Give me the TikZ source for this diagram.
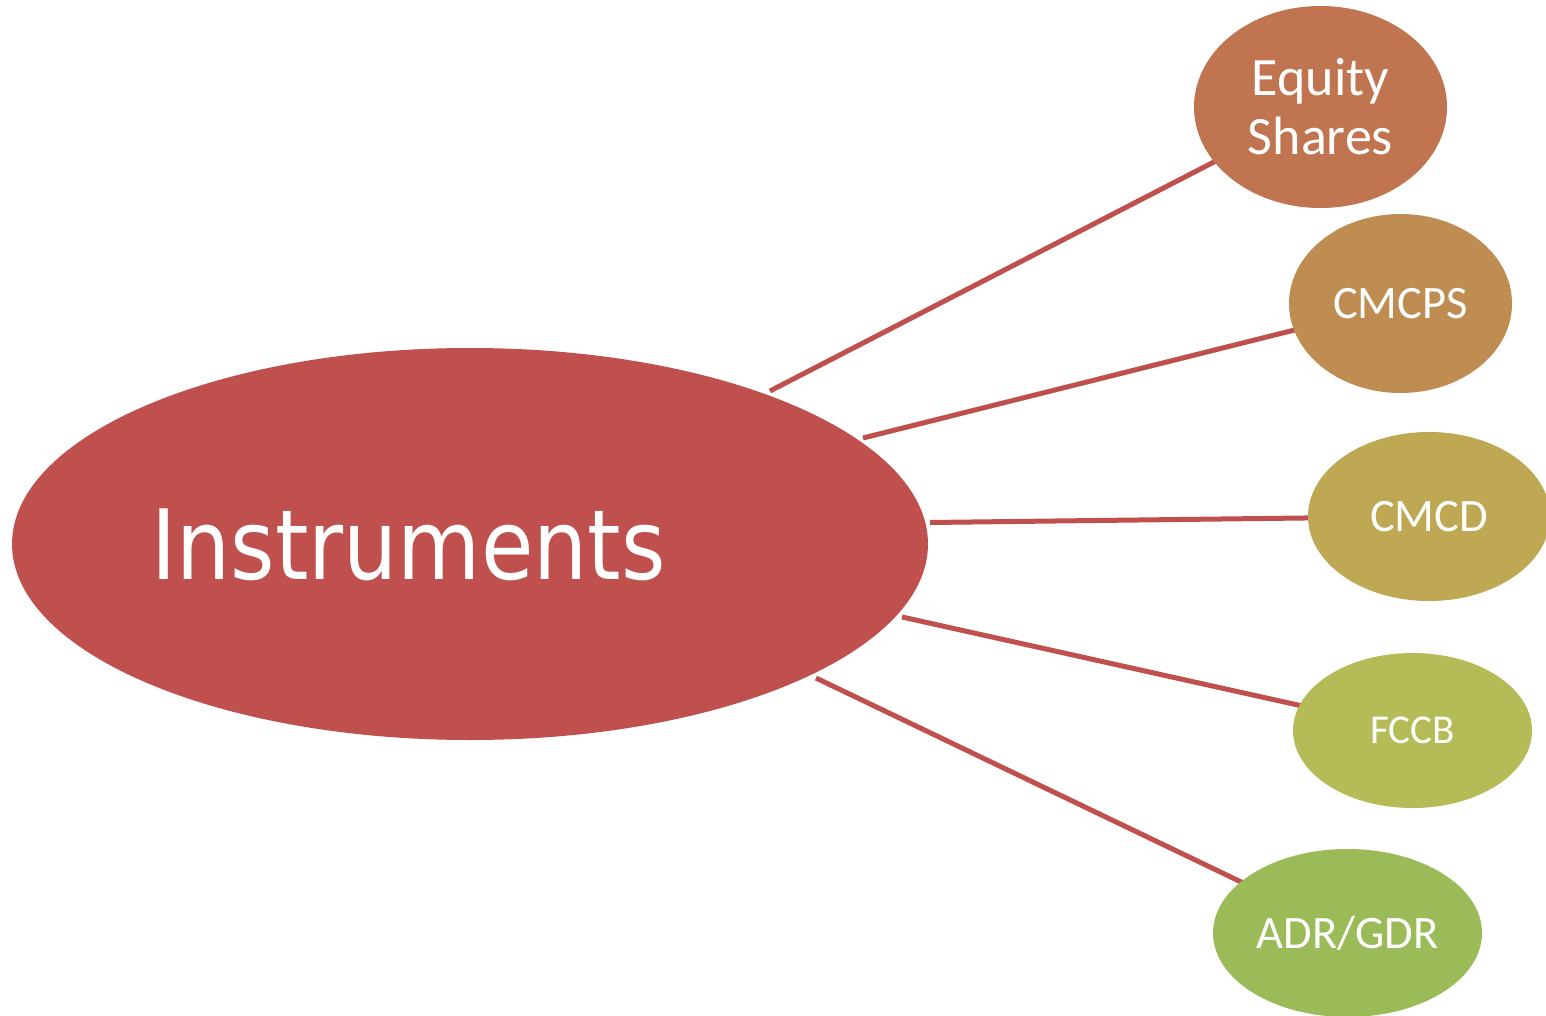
\documentclass[tikz,border=0pt]{standalone}
\usepackage{fontspec}
\setmainfont{Carlito}
\newfontfamily\instfont[FakeStretch=0.88]{DejaVu Sans}
\usetikzlibrary{shapes.geometric,backgrounds}

\definecolor{hubred}{HTML}{C0504D}
\definecolor{leafA}{RGB}{192,116,80}
\definecolor{leafB}{RGB}{191,140,82}
\definecolor{leafC}{RGB}{190,168,84}
\definecolor{leafD}{RGB}{181,187,86}
\definecolor{leafE}{HTML}{9BBB59}

\tikzset{
  leaf/.style={ellipse, inner sep=0pt, text=white, align=center},
  link/.style={draw=hubred, line width=5pt}
}

\begin{document}
\begin{tikzpicture}[x=1pt, y=-1pt]
  \useasboundingbox (0,0) rectangle (1546,1016);
  \clip (0,0) rectangle (1546,1016);

  % central hub
  \node[ellipse, fill=hubred, minimum width=916pt, minimum height=392pt, inner sep=0pt] (main) at (470,544) {};
  \node[text=white, inner sep=0pt, font=\instfont\fontsize{97}{110}\selectfont] (maintext) at (408.5,545) {Instruments};

  % satellites
  \node[leaf, fill=leafA, minimum width=253pt, minimum height=202pt,
        font=\fontsize{54}{59}\selectfont] (eq) at (1320.5,107) {Equity\\Shares};
  \node[leaf, fill=leafB, minimum width=223pt, minimum height=179pt,
        font=\fontsize{46.5}{56}\selectfont] (cmcps) at (1400.5,303.5) {CMCPS};
  \node[leaf, fill=leafC, minimum width=242pt, minimum height=169pt,
        font=\fontsize{46.5}{56}\selectfont] (cmcd) at (1429,516.5) {CMCD};
  \node[leaf, fill=leafD, minimum width=239pt, minimum height=155pt,
        font=\fontsize{41}{50}\selectfont] (fccb) at (1412.5,730.5) {FCCB};
  \node[leaf, fill=leafE, minimum width=269pt, minimum height=168pt,
        font=\fontsize{46.5}{56}\selectfont] (adr) at (1347.5,933) {ADR/GDR};

  % connector ends just off the hub's rim
  \coordinate (m1) at (770,391);
  \coordinate (m2) at (863,438);
  \coordinate (m3) at (930,522.5);
  \coordinate (m4) at (902,617);
  \coordinate (m5) at (816,678);

  \begin{pgfonlayer}{background}
    \fill[white] (0,0) rectangle (1546,1016);
    \draw[link] (m1) -- (eq.center);
    \draw[link] (m2) -- (cmcps.center);
    \draw[link] (m3) -- (cmcd.center);
    \draw[link] (m4) -- (fccb.center);
    \draw[link] (m5) -- (adr.center);
  \end{pgfonlayer}
\end{tikzpicture}
\end{document}
